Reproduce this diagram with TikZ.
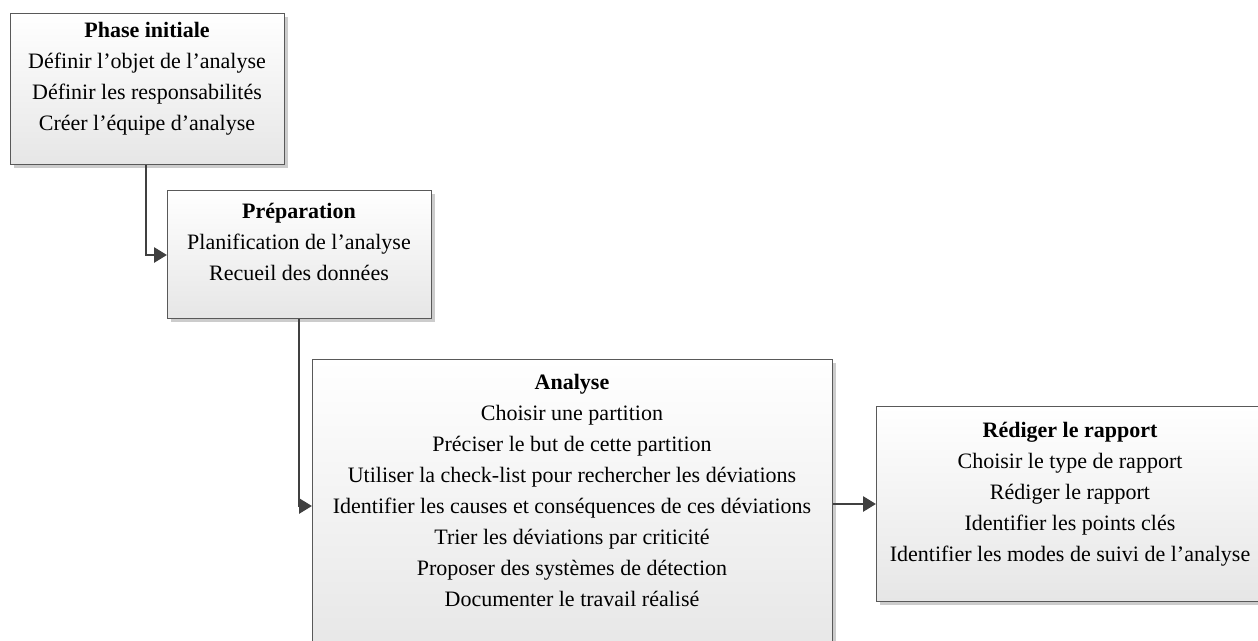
\documentclass[tikz,border=0pt]{standalone}
\usepackage{fontspec}
\setmainfont{Liberation Serif}
\usetikzlibrary{arrows.meta,shadows}
\definecolor{edgec}{HTML}{595959}
\definecolor{linec}{HTML}{404040}
\definecolor{shadc}{HTML}{CCCCCC}
\definecolor{botc}{HTML}{E6E6E6}
\tikzset{
  phasebox/.style={draw=edgec, line width=1.2pt, rectangle, inner sep=0pt,
    anchor=north west, top color=white, bottom color=botc,
    general shadow={fill=shadc, shadow xshift=3pt, shadow yshift=-3pt}},
  phasetext/.style={align=center, anchor=base, inner sep=0pt,
    font=\fontsize{22}{31}\selectfont},
  flow/.style={draw=linec, line width=2.8pt, -{Triangle[length=13pt,width=15pt]}}
}
\begin{document}
\begin{tikzpicture}[x=1pt,y=-1pt]
\path[use as bounding box] (0,0) rectangle (1258,640);
\clip (0,0) rectangle (1258,640);
\node[phasebox, minimum width=274pt, minimum height=151pt] (p1) at (10,13) {};
\node[phasetext] (t1) at (147,130.5) {\textbf{Phase initiale}\\D\'efinir l’objet de l’analyse\\D\'efinir les responsabilit\'es\\Cr\'eer l’\'equipe d’analyse};
\node[phasebox, minimum width=264pt, minimum height=128pt] (p2) at (167,190) {};
\node[phasetext] (t2) at (299,280.5) {\textbf{Pr\'eparation}\\Planification de l’analyse\\Recueil des donn\'ees};
\node[phasebox, minimum width=520pt, minimum height=300pt] (p3) at (312,359) {};
\node[phasetext] (t3) at (572,606.5) {\textbf{Analyse}\\Choisir une partition\\Pr\'eciser le but de cette partition\\Utiliser la check-list pour rechercher les d\'eviations\\Identifier les causes et cons\'equences de ces d\'eviations\\Trier les d\'eviations par criticit\'e\\Proposer des syst\`emes de d\'etection\\Documenter le travail r\'ealis\'e};
\node[phasebox, minimum width=390pt, minimum height=195pt] (p4) at (876,406) {};
\node[phasetext] (t4) at (1070,561.5) {\textbf{R\'ediger le rapport}\\Choisir le type de rapport\\R\'ediger le rapport\\Identifier les points cl\'es\\Identifier les modes de suivi de l’analyse};
\coordinate (c1) at (146,255);
\coordinate (c2) at (299,506);
\draw[flow] (p1.south -| c1) |- (p2.west |- c1);
\draw[flow] (p2.south -| c2) |- (p3.west |- c2);
\draw[flow] (p3.east |- 0,504) -- (p4.west |- 0,504);
\end{tikzpicture}
\end{document}
